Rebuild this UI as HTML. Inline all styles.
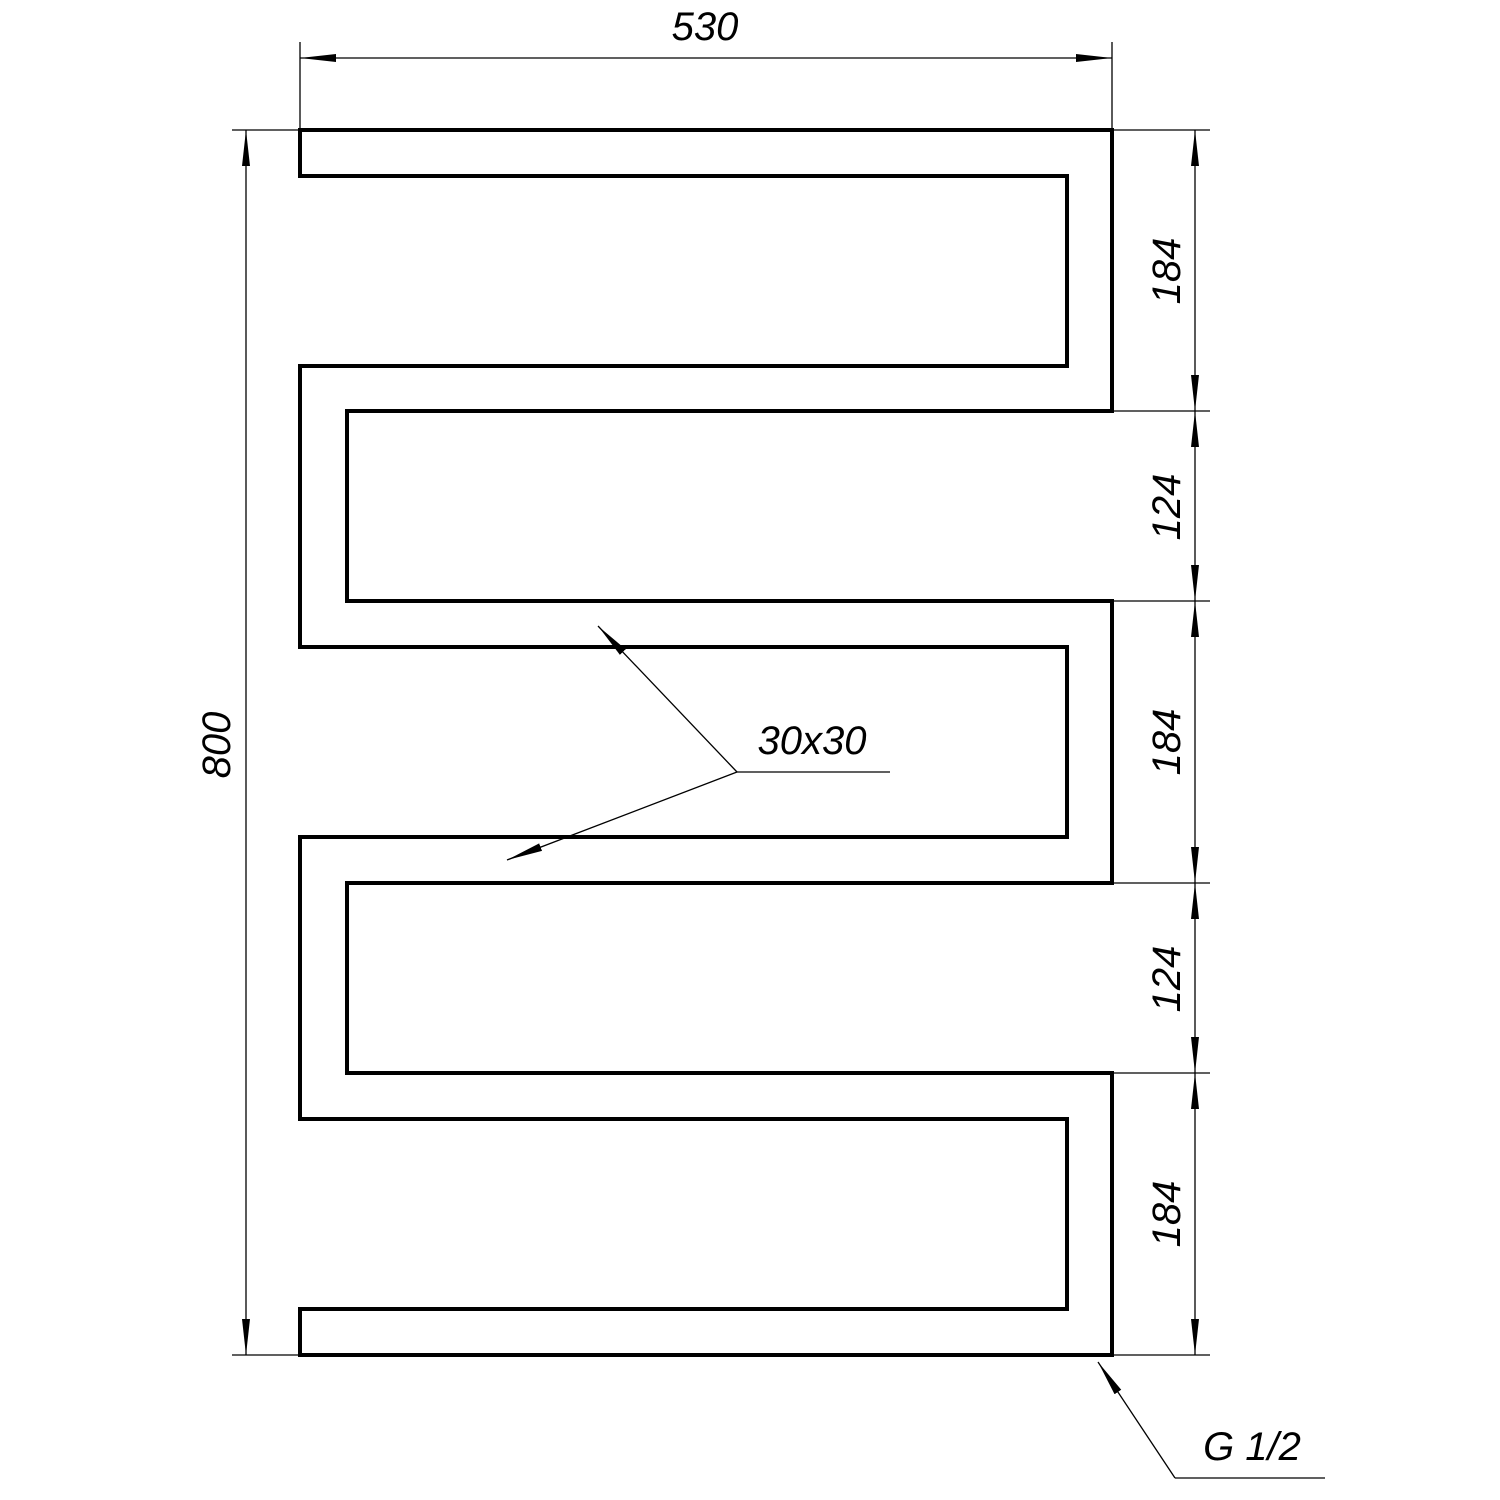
<!DOCTYPE html>
<html><head><meta charset="utf-8"><style>
html,body{margin:0;padding:0;background:#fff;}
svg{display:block;}
text{font-family:"Liberation Sans",sans-serif;font-style:italic;fill:#000;}
</style></head><body>
<svg width="1500" height="1500" viewBox="0 0 1500 1500" xmlns="http://www.w3.org/2000/svg">
<defs>
<marker id="a" viewBox="0 0 36 10" refX="36" refY="5" markerWidth="36" markerHeight="10" markerUnits="userSpaceOnUse" orient="auto">
<path d="M0,1 L36,5 L0,9 Z" fill="#000"/>
</marker>
<marker id="s" viewBox="0 0 36 10" refX="0" refY="5" markerWidth="36" markerHeight="10" markerUnits="userSpaceOnUse" orient="auto">
<path d="M36,1 L0,5 L36,9 Z" fill="#000"/>
</marker>
</defs>
<path d="M300,130 L1112,130 L1112,411 L347,411 L347,601 L1112,601 L1112,883 L347,883 L347,1073 L1112,1073 L1112,1355 L300,1355 L300,1309 L1067,1309 L1067,1119 L300,1119 L300,837 L1067,837 L1067,647 L300,647 L300,366 L1067,366 L1067,176 L300,176 Z" fill="none" stroke="#000" stroke-width="4" stroke-linejoin="miter"/>
<g stroke="#000" stroke-width="1.3" fill="none">
<!-- top -->
<line x1="300" y1="42" x2="300" y2="128"/>
<line x1="1112" y1="42" x2="1112" y2="128"/>
<line x1="300" y1="58" x2="1112" y2="58" marker-start="url(#s)" marker-end="url(#a)"/>
<!-- left -->
<line x1="232" y1="130" x2="298" y2="130"/>
<line x1="232" y1="1355" x2="298" y2="1355"/>
<line x1="246" y1="130" x2="246" y2="1355" marker-start="url(#s)" marker-end="url(#a)"/>
<!-- right -->
<line x1="1114" y1="130" x2="1210" y2="130"/>
<line x1="1114" y1="411" x2="1210" y2="411"/>
<line x1="1114" y1="601" x2="1210" y2="601"/>
<line x1="1114" y1="883" x2="1210" y2="883"/>
<line x1="1114" y1="1073" x2="1210" y2="1073"/>
<line x1="1114" y1="1355" x2="1210" y2="1355"/>
<line x1="1195" y1="130" x2="1195" y2="411" marker-start="url(#s)" marker-end="url(#a)"/>
<line x1="1195" y1="411" x2="1195" y2="601" marker-start="url(#s)" marker-end="url(#a)"/>
<line x1="1195" y1="601" x2="1195" y2="883" marker-start="url(#s)" marker-end="url(#a)"/>
<line x1="1195" y1="883" x2="1195" y2="1073" marker-start="url(#s)" marker-end="url(#a)"/>
<line x1="1195" y1="1073" x2="1195" y2="1355" marker-start="url(#s)" marker-end="url(#a)"/>
<!-- leader 30x30 -->
<line x1="737" y1="772" x2="598" y2="626" marker-end="url(#a)"/>
<line x1="737" y1="772" x2="507" y2="860" marker-end="url(#a)"/>
<line x1="737" y1="772" x2="890" y2="772"/>
<!-- G 1/2 -->
<line x1="1175" y1="1478" x2="1098" y2="1362" marker-end="url(#a)"/>
<line x1="1175" y1="1478" x2="1325" y2="1478"/>
</g>
<g font-size="40">
<text x="705" y="40" text-anchor="middle">530</text>
<text x="812" y="754" text-anchor="middle">30x30</text>
<text x="1252" y="1460" text-anchor="middle">G 1/2</text>
<text transform="translate(230,745) rotate(-90)" text-anchor="middle">800</text>
<text transform="translate(1180,271) rotate(-90)" text-anchor="middle">184</text>
<text transform="translate(1180,507) rotate(-90)" text-anchor="middle">124</text>
<text transform="translate(1180,742) rotate(-90)" text-anchor="middle">184</text>
<text transform="translate(1180,979) rotate(-90)" text-anchor="middle">124</text>
<text transform="translate(1180,1214) rotate(-90)" text-anchor="middle">184</text>
</g>
</svg>
</body></html>
